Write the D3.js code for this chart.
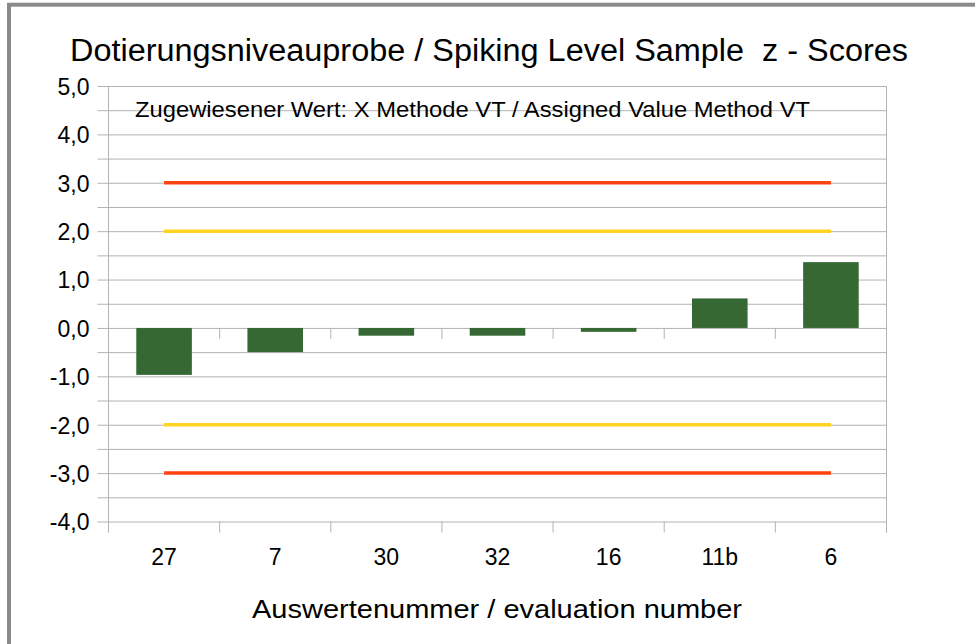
<!DOCTYPE html>
<html>
<head>
<meta charset="utf-8">
<script src="https://cdn.jsdelivr.net/npm/d3@7"></script>
<style>
  body { margin: 0; background: #fff; }
  text { font-family: "Liberation Sans", Arial, sans-serif; fill: #000; }
</style>
</head>
<body>
<div class="chart"></div>
<script>
// data
var categories = ["27", "7", "30", "32", "16", "11b", "6"];
var zScores = [-0.97, -0.50, -0.16, -0.16, -0.08, 0.61, 1.36];
var actionLimits = [3, -3];
var warningLimits = [2, -2];
var yTicks = [-4, -3.5, -3, -2.5, -2, -1.5, -1, -0.5, 0, 0.5, 1, 1.5, 2, 2.5, 3, 3.5, 4, 4.5, 5];

var svgWidth = 975;
var svgHeight = 644;

var plot = { left: 108.5, right: 886.5, top: 86, bottom: 521.5 };

var svg = d3.select(".chart")
  .append("svg")
  .attr("width", svgWidth)
  .attr("height", svgHeight);

// outer frame (runs past the right and bottom edge)
svg.append("rect")
  .attr("x", 9)
  .attr("y", 4.7)
  .attr("width", 1000)
  .attr("height", 700)
  .attr("fill", "#fff")
  .attr("stroke", "#8a8a8a")
  .attr("stroke-width", 4);

var x = d3.scaleBand()
  .domain(categories)
  .range([plot.left, plot.right])
  .paddingInner(0.5)
  .paddingOuter(0.25);

var y = d3.scaleLinear()
  .domain([-4, 5])
  .range([plot.bottom, plot.top]);

var gridColor = "#b3b3b3";

// german style labels: comma decimal, plain hyphen
function fmt(d) {
  return d.toFixed(1).replace(".", ",");
}

// y axis with gridlines every 0.5
var yAxis = d3.axisLeft(y)
  .tickValues(yTicks)
  .tickSize(-(plot.right - plot.left))
  .tickFormat(function(d) { return Number.isInteger(d) ? fmt(d) : ""; });

var yG = svg.append("g")
  .attr("transform", `translate(${plot.left},0)`)
  .call(yAxis);
yG.select(".domain").remove();
yG.selectAll(".tick line")
  .attr("x1", -11)
  .attr("stroke", gridColor);
yG.selectAll(".tick text")
  .attr("x", -19)
  .attr("dy", "0.36em")
  .style("font-size", "23px");

// left and right frame of plot area
[plot.left, plot.right].forEach(function(px) {
  svg.append("line")
    .attr("x1", px).attr("x2", px)
    .attr("y1", plot.top).attr("y2", plot.bottom + 11)
    .attr("stroke", gridColor);
});

// category boundaries
var step = x.step();
var bounds = categories.map(function(c) { return x(c) - step * 0.25; }).concat([plot.right]);

svg.append("g").selectAll("line")
  .data(bounds)
  .enter()
  .append("line")
  .attr("x1", d => d).attr("x2", d => d)
  .attr("y1", plot.bottom).attr("y2", plot.bottom + 11)
  .attr("stroke", gridColor);

svg.append("g").selectAll("line")
  .data(bounds.slice(1, -1))
  .enter()
  .append("line")
  .attr("x1", d => d).attr("x2", d => d)
  .attr("y1", y(0)).attr("y2", y(0) + 11)
  .attr("stroke", gridColor);

// bars
svg.append("g").selectAll("rect")
  .data(zScores)
  .enter()
  .append("rect")
  .attr("x", (d, i) => x(categories[i]))
  .attr("width", x.bandwidth())
  .attr("y", d => y(Math.max(0, d)))
  .attr("height", d => Math.abs(y(d) - y(0)))
  .attr("fill", "#356833");

// limit lines
var xStart = x(categories[0]) + x.bandwidth() / 2;
var xEnd = x(categories[categories.length - 1]) + x.bandwidth() / 2;

function limitLines(values, color) {
  svg.append("g").selectAll("line")
    .data(values)
    .enter()
    .append("line")
    .attr("x1", xStart).attr("x2", xEnd)
    .attr("y1", d => y(d)).attr("y2", d => y(d))
    .attr("stroke", color)
    .attr("stroke-width", 3.5);
}
limitLines(warningLimits, "#ffd320");
limitLines(actionLimits, "#ff420e");

// category labels
svg.append("g").selectAll("text")
  .data(categories)
  .enter()
  .append("text")
  .attr("x", d => x(d) + x.bandwidth() / 2)
  .attr("y", 565)
  .attr("text-anchor", "middle")
  .style("font-size", "23px")
  .text(d => d);

// titles
svg.append("text")
  .attr("x", 70)
  .attr("y", 61)
  .attr("textLength", 838)
  .attr("lengthAdjust", "spacingAndGlyphs")
  .style("font-size", "31px")
  .style("white-space", "pre")
  .text("Dotierungsniveauprobe / Spiking Level Sample  z - Scores");

svg.append("text")
  .attr("x", 135)
  .attr("y", 116.7)
  .attr("textLength", 675)
  .attr("lengthAdjust", "spacingAndGlyphs")
  .style("font-size", "22px")
  .text("Zugewiesener Wert: X Methode VT / Assigned Value Method VT");

svg.append("text")
  .attr("x", 252)
  .attr("y", 618)
  .attr("textLength", 490)
  .attr("lengthAdjust", "spacingAndGlyphs")
  .style("font-size", "25px")
  .text("Auswertenummer / evaluation number");
</script>
</body>
</html>
